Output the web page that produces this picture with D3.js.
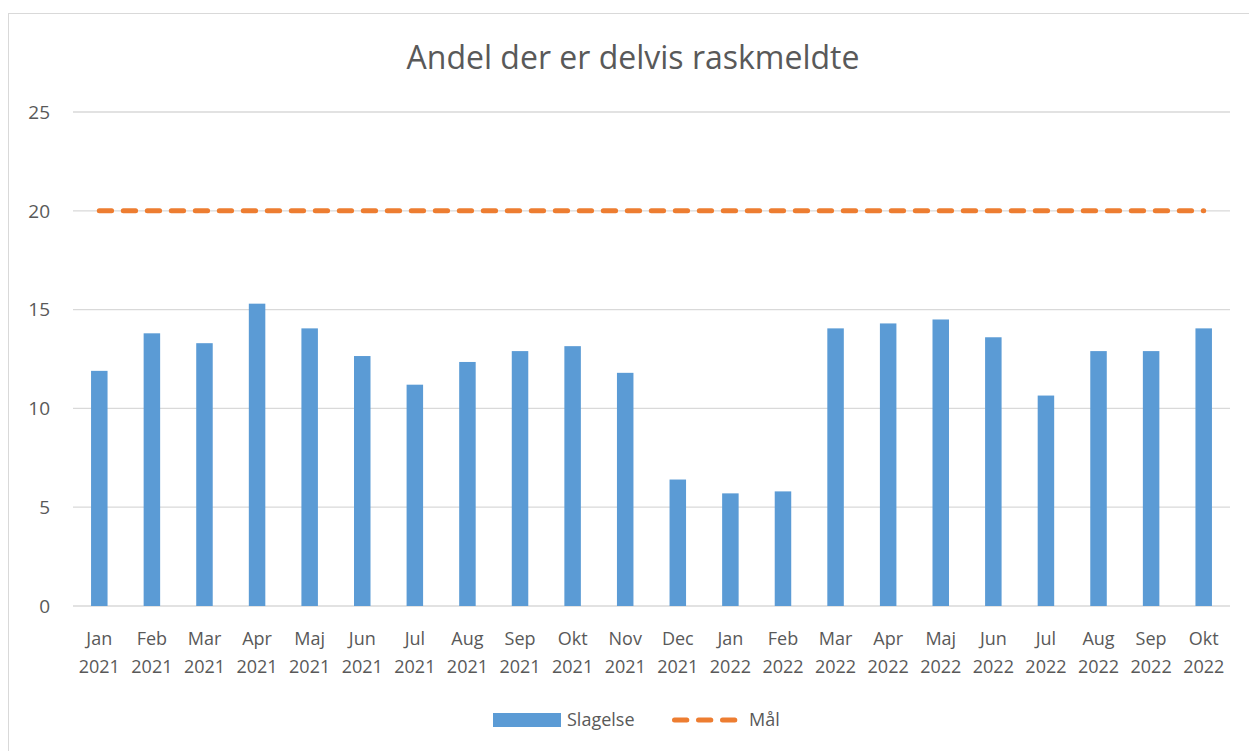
<!DOCTYPE html>
<html>
<head>
<meta charset="utf-8">
<script src="https://cdn.jsdelivr.net/npm/d3@7"></script>
<style>
  body { margin: 0; background: #fff; }
  text { font-family: "Open Sans", sans-serif; fill: #595959; }
</style>
</head>
<body>
<script>
// data
var months = ["Jan", "Feb", "Mar", "Apr", "Maj", "Jun", "Jul", "Aug", "Sep", "Okt", "Nov", "Dec",
              "Jan", "Feb", "Mar", "Apr", "Maj", "Jun", "Jul", "Aug", "Sep", "Okt"];
var years = ["2021", "2021", "2021", "2021", "2021", "2021", "2021", "2021", "2021", "2021", "2021", "2021",
             "2022", "2022", "2022", "2022", "2022", "2022", "2022", "2022", "2022", "2022"];
var slagelse = [11.9, 13.8, 13.3, 15.3, 14.05, 12.65, 11.2, 12.35, 12.9, 13.15, 11.8, 6.4,
                5.7, 5.8, 14.05, 14.3, 14.5, 13.6, 10.65, 12.9, 12.9, 14.05];
var maal = [20, 20, 20, 20, 20, 20, 20, 20, 20, 20, 20, 20,
            20, 20, 20, 20, 20, 20, 20, 20, 20, 20];
var yTicks = [0, 5, 10, 15, 20, 25];

var W = 1249, H = 751;
var plotL = 73, plotR = 1230, plotT = 112, plotB = 606; // "top" is taken by window.top

var svg = d3.select("body").append("svg").attr("width", W).attr("height", H);

// chart frame
svg.append("rect").attr("x", 8.5).attr("y", 13.5).attr("width", W + 10).attr("height", H + 10)
  .attr("fill", "#fff").attr("stroke", "#d9d9d9").attr("stroke-width", 1);

var keys = months.map(function(m, i) { return i; });
var x = d3.scaleBand().domain(keys).range([plotL, plotR]);
var y = d3.scaleLinear().domain([0, 25]).range([plotB, plotT]);

// gridlines
svg.append("g").selectAll("line").data(yTicks).enter().append("line")
  .attr("x1", plotL).attr("x2", plotR)
  .attr("y1", function(d) { return y(d); }).attr("y2", function(d) { return y(d); })
  .attr("stroke", "#d9d9d9").attr("stroke-width", 1.3);

// y axis labels
svg.append("g").selectAll("text").data(yTicks).enter().append("text")
  .attr("x", 50).attr("y", function(d) { return y(d); })
  .attr("dy", "0.36em").attr("text-anchor", "end")
  .style("font-size", "19px")
  .text(function(d) { return d; });

// bars
var bw = 16.5;
svg.append("g").selectAll("rect").data(slagelse).enter().append("rect")
  .attr("x", function(d, i) { return x(i) + x.bandwidth() / 2 - bw / 2; })
  .attr("y", function(d) { return y(d); })
  .attr("width", bw)
  .attr("height", function(d) { return plotB - y(d); })
  .attr("fill", "#5b9bd5");

// target line
var line = d3.line()
  .x(function(d, i) { return x(i) + x.bandwidth() / 2; })
  .y(function(d) { return y(d); });
svg.append("path").datum(maal).attr("d", line)
  .attr("fill", "none").attr("stroke", "#ed7d31").attr("stroke-width", 5)
  .attr("stroke-linecap", "round").attr("stroke-dasharray", "12.3,11.7");

// x labels, two lines
var xl = svg.append("g").selectAll("text").data(keys).enter().append("text")
  .attr("text-anchor", "middle").style("font-size", "18px")
  .attr("transform", function(i) { return "translate(" + (x(i) + x.bandwidth() / 2) + ",0)"; });
xl.append("tspan").attr("x", 0).attr("y", 645).text(function(i) { return months[i]; });
xl.append("tspan").attr("x", 0).attr("y", 673).text(function(i) { return years[i]; });

// title
svg.append("text").attr("x", 633).attr("y", 69).attr("text-anchor", "middle")
  .style("font-size", "32px").text("Andel der er delvis raskmeldte");

// legend
var lg = svg.append("g");
lg.append("rect").attr("x", 493).attr("y", 713).attr("width", 68).attr("height", 14).attr("fill", "#5b9bd5");
lg.append("text").attr("x", 567).attr("y", 720).attr("dy", "0.36em").style("font-size", "18px").text("Slagelse");
lg.append("line").attr("x1", 674.5).attr("x2", 735).attr("y1", 720).attr("y2", 720)
  .attr("stroke", "#ed7d31").attr("stroke-width", 5).attr("stroke-linecap", "round")
  .attr("stroke-dasharray", "12.3,11.7");
lg.append("text").attr("x", 749).attr("y", 720).attr("dy", "0.36em").style("font-size", "18px").text("Mål");
</script>
</body>
</html>
